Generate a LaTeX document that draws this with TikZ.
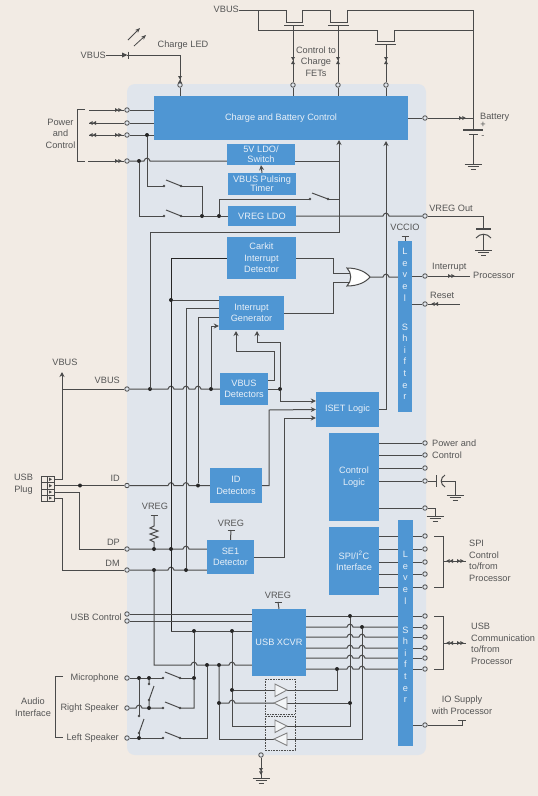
\documentclass[tikz,border=0pt]{standalone}
\usepackage{fontspec}
\setmainfont{Liberation Sans}
\usetikzlibrary{arrows.meta}
\definecolor{pagebg}{HTML}{F2EBE4}
\definecolor{panel}{HTML}{E0E5EC}
\definecolor{blockblue}{HTML}{4F96D3}
\definecolor{wirec}{HTML}{4A4A4A}
\definecolor{txtc}{HTML}{555555}
\definecolor{blocktxt}{HTML}{E8F0F8}
\tikzset{
 wire/.style={draw=wirec,line width=1pt},
 dwire/.style={draw=black!85,line width=1pt},
 tip/.style={-{Stealth[length=5pt,width=5pt]}},
 block/.style={fill=blockblue,text=blocktxt,inner sep=0pt,align=center,
   font=\fontsize{9.2}{11.5}\selectfont},
 lbl/.style={text=txtc,inner sep=0pt,align=center,font=\fontsize{9.2}{11.6}\selectfont},
 term/.style={circle,draw=wirec,fill=panel,line width=0.8pt,inner sep=0pt,minimum size=4.5pt},
 jn/.style={circle,fill=black!85,inner sep=0pt,minimum size=4pt},
 buf/.style={draw=black!50,fill=white!60!panel,line width=0.9pt},
 dbox/.style={draw=black!70,densely dotted,line width=0.6pt,fill=white!12!panel}
}
\newcommand{\blk}[6]{\node[block,minimum width={(#4-#2)*1pt},minimum height={(#5-#3)*1pt}] (#1) at ({(#2+#4)/2},{(#3+#5)/2}) {#6};}
\newcommand{\tm}[3]{\node[term] (#1) at (#2,#3) {};}
\newcommand{\jj}[3]{\node[jn] (#1) at (#2,#3) {};}
\def\hop#1#2{-- (#1-3,#2) .. controls (#1-2,#2-3.8) and (#1+2,#2-3.8) .. (#1+3,#2)}
\newcommand{\twotri}[3]{\fill[wirec,shift={(#1,#2)},rotate=#3] (-4,-2)--(-0.6,0)--(-4,2)--cycle (-0.6,-2)--(2.8,0)--(-0.6,2)--cycle;}
\newcommand{\facing}[3]{\fill[wirec,shift={(#1,#2)},rotate=#3] (-4,-2)--(-0.6,0)--(-4,2)--cycle (3,-2)--(-0.4,0)--(3,2)--cycle;}
\newcommand{\gnd}[2]{\draw[wire] (#1-8.5,#2)--(#1+8.5,#2) (#1-5.5,#2+2.5)--(#1+5.5,#2+2.5) (#1-2.5,#2+5)--(#1+2.5,#2+5);}
\newcommand{\sw}[4]{\coordinate (#1-a) at (#2,#4); \coordinate (#1-b) at (#3,#4);
 \fill[wirec] (#2,#4) circle (1.4) (#3,#4) circle (1.4);
 \draw[wire] (#2+2,#4-6)--(#3,#4);}
\newcommand{\tee}[3]{\draw[wire] (#1-3.5,#2)--(#1+3.5,#2);}
\begin{document}
\begin{tikzpicture}[x=1pt,y=-1pt]
\useasboundingbox (0,0) rectangle (538,796);
\fill[pagebg] (0,0) rectangle (538,796);
\fill[panel,rounded corners=8pt] (127,84) rectangle (426,755);

% blocks
\blk{chg}{154}{96}{408}{140}{Charge and Battery Control}
\blk{ldo}{227}{144}{295}{165}{5V LDO/\\[-1.5pt]Switch}
\blk{timer}{228}{173}{296}{195}{VBUS Pulsing\\[-2.5pt]Timer}
\blk{vreg}{228}{206}{296}{226}{VREG LDO}
\blk{car}{227}{237}{296}{279}{Carkit\\Interrupt\\Detector}
\blk{ig}{219}{296}{284}{330}{Interrupt\\Generator}
\blk{vb}{220}{373}{268}{405}{VBUS\\Detectors}
\blk{iset}{316}{392}{379}{427}{ISET Logic}
\blk{id}{210}{468}{262}{503}{ID\\Detectors}
\blk{se}{207}{540}{254}{574}{SE1\\Detector}
\blk{ctl}{329}{433}{379}{521}{Control\\Logic}
\blk{spi}{329}{527}{379}{595}{SPI/I\textsuperscript{2}C\\Interface}
\blk{ls1}{398}{241}{412}{412}{}
\blk{ls2}{398}{520}{413}{746}{}
\blk{usb}{252}{609}{306}{676}{USB XCVR}
\node[block,fill=none,font=\fontsize{9.2}{11.6}\selectfont] (ls1t) at (405,324) {L\\e\\v\\e\\l\\[17.5pt]S\\h\\i\\f\\t\\e\\r};
\node[block,fill=none,font=\fontsize{9.2}{11.6}\selectfont] (ls2t) at (405.5,627) {L\\e\\v\\e\\l\\[17.5pt]S\\h\\i\\f\\t\\e\\r};

% terminals
\tm{tled}{180}{85}\tm{g1}{293}{85}\tm{g2}{338}{85}\tm{g3}{386}{85}
\tm{tp1}{127}{110}\tm{tp2}{127}{123}\tm{tp3}{127}{135}\tm{tp4}{127}{161}
\tm{tb}{425}{118}\tm{tvo}{425}{216}\tm{tint}{425}{276}\tm{trst}{425}{304}
\tm{tvb}{127}{389}\tm{tid}{127}{485.5}\tm{tdp}{127}{549}\tm{tdm}{127}{570}
\tm{tu1}{127}{614}\tm{tu2}{127}{621}
\tm{tmic}{127}{678}\tm{trs}{127}{708}\tm{tls}{127}{738}
\tm{c1}{425}{443}\tm{c2}{425}{455}\tm{c3}{425}{468}\tm{c4}{425}{481}\tm{c5}{425}{508}
\tm{s1}{425}{536}\tm{s2}{425}{549}\tm{s3}{425}{562}\tm{s4}{425}{574}\tm{s5}{425}{587}
\tm{u1}{425}{616}\tm{u2}{425}{627}\tm{u3}{425}{637}\tm{u4}{425}{648}\tm{u5}{425}{658}\tm{u6}{425}{669}
\tm{tio}{425}{725}\tm{tgnd}{261}{755}

% labels
\node[lbl,anchor=east] (lvbt) at (239,9) {VBUS};
\node[lbl,anchor=east] (lvbl) at (106,55) {VBUS};
\node[lbl] (lled) at (183,45) {Charge LED};
\node[lbl] (lfet) at (316,61.5) {Control to\\Charge\\FETs};
\node[lbl,anchor=west] (lbat) at (480,117) {Battery};
\node[lbl] (lpc) at (60.5,133.5) {Power\\and\\Control};
\node[lbl] (lvo) at (451,208) {VREG Out};
\node[lbl] (lvcc) at (405,227) {VCCIO};
\node[lbl,anchor=west] (lint) at (432,267) {Interrupt};
\node[lbl,anchor=west] (lpr) at (473,275) {Processor};
\node[lbl,anchor=west] (lrst) at (430,295) {Reset};
\node[lbl] (lvu) at (65,362) {VBUS};
\node[lbl,anchor=east] (lvb) at (120,380) {VBUS};
\node[lbl,anchor=east] (lidl) at (120,478) {ID};
\node[lbl] (lplug) at (23.5,484) {USB\\Plug};
\node[lbl,anchor=east] (ldp) at (120,542) {DP};
\node[lbl,anchor=east] (ldm) at (120,563) {DM};
\node[lbl] (lr) at (155,506) {VREG};
\node[lbl] (lv1) at (231,523) {VREG};
\node[lbl] (lv2) at (278,595) {VREG};
\node[lbl,anchor=east] (luc) at (122,617) {USB Control};
\node[lbl,anchor=east] (lmic) at (119,678) {Microphone};
\node[lbl,anchor=east] (lrsp) at (119,708) {Right Speaker};
\node[lbl,anchor=east] (llsp) at (119,738) {Left Speaker};
\node[lbl] (laud) at (33,707) {Audio\\Interface};
\node[lbl,align=left,anchor=west] (lpwr) at (432,449) {Power and\\Control};
\node[lbl,align=left,anchor=west] (lspi) at (469,561) {SPI\\Control\\to/from\\Processor};
\node[lbl,align=left,anchor=west] (lcom) at (471,644) {USB\\Communication\\to/from\\Processor};
\node[lbl] (lio) at (462,705.5) {IO Supply\\with Processor};

% top rail and FETs
\coordinate (f1a) at (286,22); \coordinate (f1b) at (302,22);
\coordinate (f2a) at (330,22); \coordinate (f2b) at (347,22);
\coordinate (f3a) at (377,41); \coordinate (f3b) at (394,41);
\coordinate (railr) at (473,10); \coordinate (batt) at (473,130);
\draw[wire] (lvbt.east |- railr) -| (f1a) -- (f1b) |- (f2a |- railr) -- (f2a) -- (f2b) |- (railr) -- (batt);
\draw[wire] (258,10) |- (f3a |- 0,30) -- (f3a) -- (f3b) |- (railr |- 0,30);
\draw[wire] (284,25) -- (304,25) (328,25) -- (349,25) (375,44) -- (396,44);
\draw[wire] (g1) -- (293,25) (g2) -- (338,25) (g3) -- (386,44);
\draw[wire] (g1) -- (g1 |- chg.north) (g2) -- (g2 |- chg.north) (g3) -- (g3 |- chg.north);
\facing{293}{60}{90}\facing{338}{60}{90}\facing{386}{60}{90}
% battery
\draw[wire] (chg.east |- tb) -- (tb) (tb) -- (473,118);
\twotri{463}{118}{0}
\draw[wire,line width=1.4pt] (463,130) -- (483,130);
\draw[wire] (469,134) -- (478,134) (473,134) -- (473,164);
\gnd{473}{164}
\node[lbl] (lplus) at (483,125) {+};
\node[lbl] (lminus) at (483,137) {-};
% charge LED
\draw[wire] (lvbl.east) -- (123,55) (127,55) -| (tled);
\fill[wirec] (122,52.5) -- (127.5,55) -- (122,57.5) -- cycle;
\draw[wire] (128,51.5) -- (128,58.5);
\draw[wire] (tled) -- (tled |- chg.north);
\facing{180}{79}{90}
\draw[wirec,line width=0.8pt,-{Stealth[length=5pt,width=4pt]}] (128,40) -- (140,28);
\draw[wirec,line width=0.8pt,-{Stealth[length=5pt,width=4pt]}] (134,46) -- (146,35);
% power and control bracket
\draw[wire] (85,109) -- (77,109) -- (77,161) -- (85,161);
\draw[wire] (89,110) -- (tp1) (tp1) -- (tp1 -| chg.west);
\draw[wire] (89,123) -- (tp2) (tp2) -- (tp2 -| chg.west);
\draw[wire] (89,135) -- (tp3) (tp3) -- (tp3 -| chg.west);
\draw[wire] (88,161) -- (tp4);
\twotri{119}{110}{0}\twotri{119}{135}{0}\twotri{119}{161}{0}
\twotri{92}{123}{180}\twotri{92}{135}{180}
% 5V and VREG
\jj{j1}{139}{161}\jj{j2}{147}{135}\jj{j3}{202}{216}\jj{j4}{219}{216}
\sw{sa}{164}{181}{186}\sw{sb}{164}{181}{216}\sw{sc}{310}{328}{199}
\coordinate (c339) at (339,140);
\draw[wire] (tp4) -- (j1) \hop{147}{161} -- (ldo.west |- tp4);
\draw[wire] (ldo.east |- tp4) -- (c339 |- tp4);
\draw[wire] (j2) |- (sa-a);
\draw[wire] (sa-b) -| (j3);
\draw[wire] (j1) |- (sb-a);
\draw[wire] (sb-b) -- (j3) -- (j4) -- (vreg.west);
\draw[wire] (j4) |- (sc-a);
\draw[wire] (sc-b) -- (c339 |- sc-b);
\draw[wire,tip] (timer.north) -- (ldo.south);
\draw[wire] (vreg.east) \hop{386}{216} -- (tvo);
\draw[wire] (tvo) -| (483,229);
\draw[wire,line width=1.4pt] (476,229) -- (491,229);
\draw[wire] (476,238) .. controls (480,233) and (487,233) .. (491,238);
\draw[wire] (483.5,234) -- (483.5,250);
\gnd{483.5}{250}
\tee{405}{236}{}
\draw[wire] (405,236) -- (ls1.north);
% VBUS wiring
\jj{j5}{150}{389}\jj{j6}{211}{389}\jj{j7}{280}{389}
\draw[wire] (tvb) -- (j5) \hop{171}{389} \hop{186}{389} \hop{198}{389} -- (j6) -- (vb.west);
\draw[wire,tip] (j5.center) |- (c339 |- 0,232) -- (c339);
\draw[wire] (vb.east) -- (j7);
\draw[wire,tip] (vb.east |- 0,380) -- (274,380) |- (236,351) -- (236,331);
\draw[wire,tip] (j7) |- (257,342) -- (257,331);
\draw[wire,tip] (j7) |- (iset.west |- 0,401);
\draw[wire,tip] (j6) |- (ig.west |- 0,326);
\draw[wire,tip] (id.east) -| (269,410) -- (iset.west);
\draw[wire,tip] (se.east) -| (284,418) -- (iset.west |- 0,418);
\draw[wire,tip] (iset.east) -| (386,141);
% VBUS up, plug
\node[draw=wirec,line width=0.8pt,inner sep=0pt,minimum width=13pt,minimum height=25pt] (plug) at (47.5,488.5) {};
\draw[wirec,line width=0.7pt] (41,482.5)--(54,482.5) (41,489)--(54,489) (41,495)--(54,495) (47,476)--(47,501);
\fill[wirec] (49,477.5)--(52,479.3)--(49,481)--cycle (49,484)--(52,485.7)--(49,487.5)--cycle (49,490.5)--(52,492)--(49,493.5)--cycle (49,496.5)--(52,498)--(49,499.5)--cycle;
\coordinate (vup) at (62,372);
\draw[wire,tip] (plug.east |- 0,479) -| (vup);
\draw[wire] (tvb) -- (vup |- tvb);
\draw[wire] (plug.east |- tid) -- (tid);
\fill[black!85] (80,485.5) circle (2);
\draw[wire] (plug.east |- 0,492) -| (79,549) -- (tdp);
\draw[wire] (plug.east |- 0,498) -| (62,570) -- (tdm);
% ID, DP, DM
\jj{j8}{198}{485.5}\jj{j9}{154}{549}\jj{j10}{171}{549}\jj{j11}{154}{570}\jj{j12}{186}{570}
\draw[wire] (tid) \hop{171}{485.5} \hop{186}{485.5} -- (j8) -- (id.west);
\draw[wire] (tdp) -- (j9) -- (j10) \hop{186}{549} -- (se.west |- j9);
\draw[wire] (tdm) -- (j11) \hop{171}{570} -- (j12) -- (se.west |- j12);
\draw[wire] (j8) |- (ig.west |- 0,317);
\draw[wire] (j12) |- (ig.west |- 0,308);
\jj{j13}{171}{300}
\draw[wire] (j13) -- (ig.west |- j13);
\draw[dwire] (car.west) -| (171,631);
% resistor
\tee{154}{515}{}
\draw[wire] (154,515) -- (154,526) -- (150,528) -- (158,531) -- (150,534) -- (158,537) -- (150,540) -- (154,542) -- (j9);
\tee{231}{530}{}\draw[wire] (231,530) -- (se.north);
\tee{278}{602}{}\draw[wire] (278,602) -- (usb.north);
% OR gate
\coordinate (ora) at (349.5,273); \coordinate (orb) at (349.5,282); \coordinate (oro) at (370,277);
\draw[wire] (car.east) -| (333,273) -- (ora);
\draw[wire] (ig.east) -| (333,282) -- (orb);
\draw[wire,fill=white] (347,268) .. controls (352,273) and (352,281) .. (347,286) .. controls (358,286) and (366,282) .. (oro) .. controls (366,272) and (358,268) .. (347,268) -- cycle;
\draw[wire] (oro) \hop{386}{277} -- (ls1.west |- oro);
\draw[wire] (ls1.east |- tint) -- (tint) (tint) -- (470,276);
\twotri{452}{276}{0}
\draw[wire] (ls1.east |- trst) -- (trst) (trst) -- (460,304);
\twotri{434}{304}{180}
% control logic
\foreach \n in {c1,c2,c3,c4,c5}{\draw[wire] (ctl.east |- \n) -- (\n);}
\draw[wire] (c4) -- (436,481) (436,475) -- (436,487);
\draw[wire] (445,475) .. controls (440,478) and (440,484) .. (445,487);
\draw[wire] (440.5,481) -- (455,481) -- (455,495);
\gnd{455}{495}
\draw[wire] (c5) -- (435,508) -- (435,516);
\gnd{435}{516}
% SPI
\foreach \n in {s1,s2,s3,s4,s5}{\draw[wire] (spi.east |- \n) -- (ls2.west |- \n) (ls2.east |- \n) -- (\n);}
\draw[wire] (434,536) -- (443,536) -- (443,587) -- (434,587);
\draw[wire] (443,561) -- (466,561);
\twotri{449}{561}{180}\twotri{461}{561}{0}
% USB
\draw[wire] (tu1) -- (tu1 -| usb.west) (tu2) -- (tu2 -| usb.west);
\jj{j14}{194}{631}\jj{j15}{232}{631}\jj{j16}{207}{665}\jj{j17}{219}{665}
\jj{j18}{139}{678}\jj{j19}{149}{678}\jj{j20}{194}{678}\jj{j21}{149}{708}\jj{j22}{139}{738}
\jj{j23}{232}{690}\jj{j24}{219}{703}
\draw[wire] (171,631) -- (j14) -- (j15) -- (usb.west |- j15);
\draw[wire] (j11) -- (154,665) \hop{194}{665} -- (j16) -- (j17) \hop{232}{665} -- (usb.west |- j17);
\sw{m1}{163}{180}{678}\sw{m2}{163}{180}{708}\sw{m3}{163}{180}{738}
\draw[wire] (tmic) -- (j18) -- (j19) -- (m1-a) (m1-b) -- (j20);
\draw[wire] (trs) \hop{139}{708} -- (j21) -- (m2-a) (m2-b) -| (j20);
\draw[wire] (tls) -- (j22) -- (m3-a) (m3-b) -| (j16);
\draw[wire] (j14) -- (j20);
\draw[wire] (j18) -- (139,716);
\draw[wire] (139,733) -- (j22);
\draw[wire] (144,719) -- (139,733);
\fill[wirec] (139,716) circle (1.4) (139,733) circle (1.4) (149,684) circle (1.4) (149,700) circle (1.4);
\draw[wire] (j19) -- (149,684) (149,700) -- (j21) (149,700) -- (154,686);
% buffers
\draw[dbox] (265,679) rectangle (295,714);
\draw[dbox] (265,716) rectangle (295,750);
\coordinate (b1i) at (275,690); \coordinate (b1o) at (287,690);
\coordinate (b2i) at (287,703); \coordinate (b2o) at (274,703);
\coordinate (b3i) at (275,726); \coordinate (b3o) at (287,726);
\coordinate (b4i) at (287,739); \coordinate (b4o) at (274,739);
\jj{j25}{337}{669}\jj{j26}{350}{616}\jj{j27}{362}{627}\jj{j28}{350}{703}
\draw[wire] (j15) -- (j23) -- (b1i);
\draw[wire] (j23) |- (b3i);
\draw[wire] (j17) -- (j24) \hop{232}{703} -- (b2o);
\draw[wire] (j24) |- (b4o);
\draw[wire] (b1o) -| (j25);
\draw[wire] (b2i) -- (j28);
\draw[wire] (b3o) -| (j28) -- (j26);
\draw[wire] (b4i) -| (j27);
\draw[buf] (275,684) -- (287,690) -- (275,696.5) -- cycle;
\draw[buf] (287,697) -- (274,703) -- (287,709.5) -- cycle;
\draw[buf] (275,720) -- (287,726) -- (275,732.5) -- cycle;
\draw[buf] (287,733) -- (274,739) -- (287,745.5) -- cycle;
% XCVR outputs
\draw[wire] (usb.east |- u1) -- (j26) -- (ls2.west |- u1);
\draw[wire] (usb.east |- u2) \hop{350}{627} -- (j27) -- (ls2.west |- u2);
\draw[wire] (usb.east |- u3) \hop{350}{637} \hop{362}{637} -- (ls2.west |- u3);
\draw[wire] (usb.east |- u4) \hop{350}{648} \hop{362}{648} -- (ls2.west |- u4);
\draw[wire] (usb.east |- u5) \hop{350}{658} \hop{362}{658} -- (ls2.west |- u5);
\draw[wire] (usb.east |- u6) -- (j25) \hop{350}{669} \hop{362}{669} -- (ls2.west |- u6);
\foreach \n in {u1,u2,u3,u4,u5,u6}{\draw[wire] (ls2.east |- \n) -- (\n);}
\draw[wire] (434,616) -- (443,616) -- (443,669) -- (434,669);
\draw[wire] (443,643) -- (466,643);
\twotri{449}{643}{180}\twotri{461}{643}{0}
% IO supply
\draw[wire] (ls2.east |- tio) -- (tio) (tio) -| (462,720);
\draw[wire] (458,720) -- (466,720);
% ground
\draw[wire] (tgnd) -- (261,778);
\twotri{261}{772}{-90}
\gnd{261}{778}
% audio bracket
\draw[wire] (63,676) -- (55,676) -- (55,737) -- (63,737);
\end{tikzpicture}
\end{document}
